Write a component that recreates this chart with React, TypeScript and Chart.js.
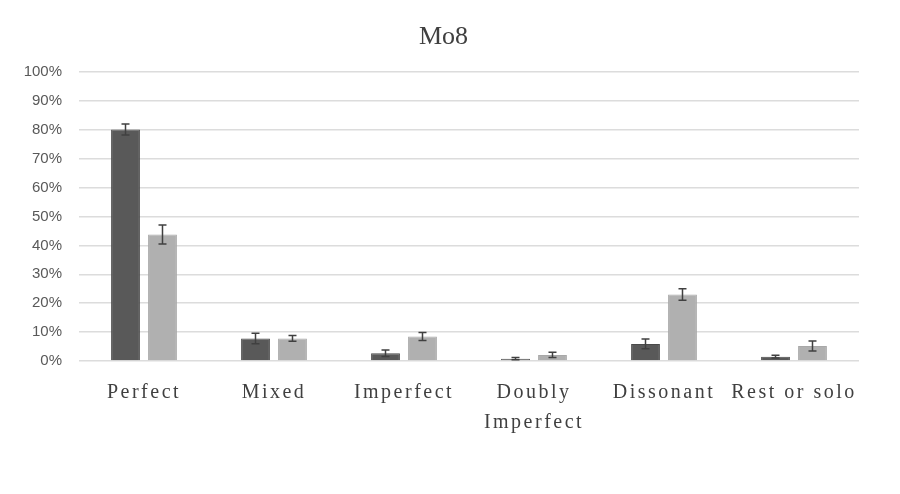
import { useEffect, useRef } from "react";
import { Chart, registerables } from "chart.js";

Chart.register(...registerables);

const titleText = "Mo8";
const categories: string[][] = [
  ["Perfect"],
  ["Mixed"],
  ["Imperfect"],
  ["Doubly", "Imperfect"],
  ["Dissonant"],
  ["Rest or solo"],
];
const seriesA = [80.1, 7.8, 2.7, 0.8, 5.9, 1.5];
const errorsA = [1.9, 1.8, 1.1, 0.4, 1.7, 0.5];
const seriesB = [43.8, 7.8, 8.5, 2.1, 23.0, 5.2];
const errorsB = [3.3, 1.0, 1.4, 0.9, 2.0, 1.7];
const errorSets = [errorsA, errorsB];

const errorBarPlugin = {
  id: "errorBars",
  afterDatasetsDraw(chart: any) {
    const ctx = chart.ctx;
    const yScale = chart.scales.y;
    chart.data.datasets.forEach((ds: any, di: number) => {
      const meta = chart.getDatasetMeta(di);
      const errs = errorSets[di];
      meta.data.forEach((bar: any, i: number) => {
        const v = ds.data[i];
        const e = errs[i];
        const yTop = yScale.getPixelForValue(v + e);
        const yBot = yScale.getPixelForValue(Math.max(0, v - e));
        const x = bar.x;
        ctx.save();
        ctx.strokeStyle = "#404040";
        ctx.lineWidth = 1.5;
        ctx.beginPath();
        ctx.moveTo(x, yTop);
        ctx.lineTo(x, yBot);
        ctx.moveTo(x - 4, yTop);
        ctx.lineTo(x + 4, yTop);
        ctx.moveTo(x - 4, yBot);
        ctx.lineTo(x + 4, yBot);
        ctx.stroke();
        ctx.restore();
      });
    });
  },
};

const titlePlugin = {
  id: "customTitle",
  afterDraw(chart: any) {
    const ctx = chart.ctx;
    ctx.save();
    ctx.fillStyle = "#404040";
    ctx.font = "26px 'Liberation Serif', serif";
    ctx.textAlign = "center";
    ctx.textBaseline = "alphabetic";
    ctx.fillText(titleText, 443.5, 44);
    ctx.restore();
  },
};

const letterSpacingPlugin = {
  id: "xLetterSpacing",
  beforeDraw(chart: any) {
    const s: any = chart.scales.x;
    if (s && !s._lsPatched) {
      const orig = s.drawLabels;
      s.drawLabels = function (area: any) {
        const c = this.ctx;
        c.save();
        c.letterSpacing = "2.5px";
        orig.call(this, area);
        c.restore();
      };
      s._lsPatched = true;
    }
  },
};

export default function App() {
  const ref = useRef<HTMLCanvasElement | null>(null);

  useEffect(() => {
    if (!ref.current) return;
    const chart = new Chart(ref.current, {
      type: "bar",
      data: {
        labels: categories,
        datasets: [
          {
            label: "A",
            data: seriesA,
            backgroundColor: "#595959",
            borderColor: "#4a4a4a",
            borderWidth: 1,
            categoryPercentage: 0.569,
            barPercentage: 0.78,
          },
          {
            label: "B",
            data: seriesB,
            backgroundColor: "#b0b0b0",
            borderColor: "#a8a8a8",
            borderWidth: 1,
            categoryPercentage: 0.569,
            barPercentage: 0.78,
          },
        ],
      },
      options: {
        responsive: false,
        animation: false,
        layout: { padding: { left: 0, right: 41, top: 72, bottom: 0 } },
        plugins: {
          legend: { display: false },
          tooltip: { enabled: false },
          title: { display: false },
        },
        scales: {
          x: {
            grid: { display: false, drawTicks: false },
            border: { display: false },
            ticks: {
              color: "#404040",
              font: { family: "'Liberation Serif', serif", size: 20, lineHeight: 1.5 },
              padding: 17,
              maxRotation: 0,
              autoSkip: false,
            },
            afterFit(scale: any) {
              scale.height = 133;
            },
          },
          y: {
            min: 0,
            max: 100,
            grid: { color: "#dcdcdc", lineWidth: 1.5, drawTicks: false },
            border: { display: false },
            ticks: {
              stepSize: 10,
              color: "#595959",
              font: { family: "'Liberation Sans', Arial, sans-serif", size: 15 },
              padding: 17,
              callback: (v: any) => v + "%",
            },
            afterFit(scale: any) {
              scale.width = 79;
            },
          },
        },
      },
      plugins: [errorBarPlugin, letterSpacingPlugin, titlePlugin],
    });
    return () => chart.destroy();
  }, []);

  return (
    <div style={{ position: "fixed", left: 0, top: 0, width: 900, height: 494, background: "#fff" }}>
      <canvas ref={ref} width={900} height={494} style={{ display: "block" }} />
    </div>
  );
}
